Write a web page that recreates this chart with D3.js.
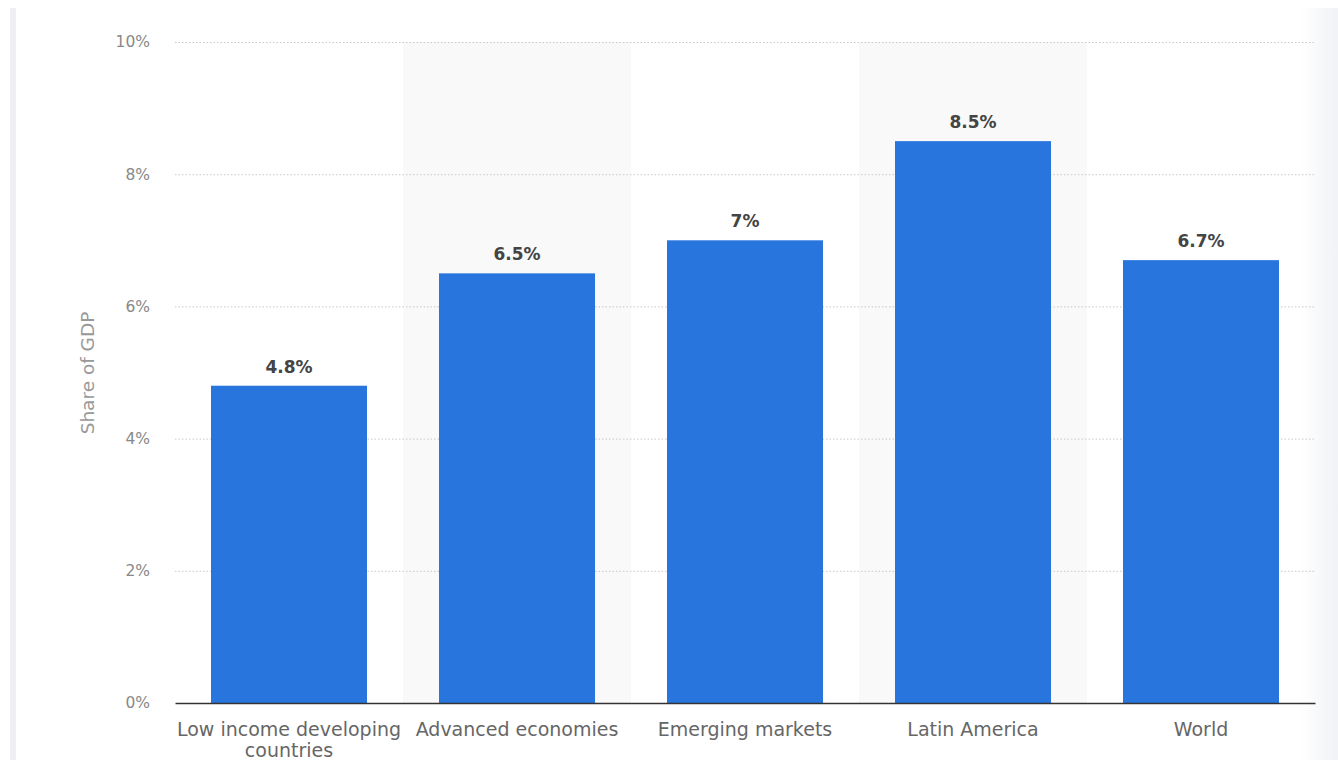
<!DOCTYPE html>
<html><head><meta charset="utf-8">
<script src="https://cdn.jsdelivr.net/npm/d3@7"></script>
<style>body{margin:0;background:#fff;font-family:"DejaVu Sans",sans-serif;}</style>
</head><body><svg id="c" width="1338" height="760"></svg>
<script>
const categories = ["Low income developing countries","Advanced economies","Emerging markets","Latin America","World"];
const values = [4.8, 6.5, 7, 8.5, 6.7];
const valueLabels = ["4.8%","6.5%","7%","8.5%","6.7%"];
const yTicks = [0,2,4,6,8,10];
const yTitle = "Share of GDP";

const FONT = "'DejaVu Sans',sans-serif";
const svg = d3.select("#c");
const m = {l:175, r:1315, t:42, b:703};
const x = d3.scaleBand().domain(categories).range([m.l, m.r]).paddingInner(0).paddingOuter(0);
const y = d3.scaleLinear().domain([0,10]).range([m.b, m.t]);

// side decorations
svg.append("rect").attr("x",10).attr("y",8).attr("width",6).attr("height",752).attr("fill","#eef0f4");
const defs = svg.append("defs");
const g = defs.append("linearGradient").attr("id","rg").attr("x1","0").attr("x2","1");
g.append("stop").attr("offset","0").attr("stop-color","#ffffff");
g.append("stop").attr("offset","1").attr("stop-color","#f1f2f5");
svg.append("rect").attr("x",1300).attr("y",8).attr("width",38).attr("height",752).attr("fill","url(#rg)");

// alternating bands
svg.selectAll("rect.band").data(categories.filter((d,i)=>i%2===1)).join("rect")
  .attr("class","band").attr("x",d=>x(d)).attr("y",m.t).attr("width",x.bandwidth()).attr("height",m.b-m.t)
  .attr("fill","#f9f9f9");

// grid
const yAxis = d3.axisLeft(y).tickValues(yTicks).tickFormat(d=>d+"%").tickSize(-(m.r-m.l)).tickPadding(25);
const ga = svg.append("g").attr("transform",`translate(${m.l},0)`).call(yAxis);
ga.select(".domain").remove();
ga.selectAll(".tick line").attr("stroke","#c8c8c8").attr("stroke-dasharray","1.5,2");
ga.selectAll(".tick text").attr("fill","#888").style("font-size","15.5px").style("font-family",FONT);
ga.selectAll(".tick").filter(d=>d===0).select("line").remove();

// bars
const bw = 156;
svg.selectAll("rect.bar").data(categories).join("rect").attr("class","bar")
  .attr("x",d=>x(d)+(x.bandwidth()-bw)/2).attr("width",bw)
  .attr("y",(d,i)=>y(values[i])).attr("height",(d,i)=>y(0)-y(values[i]))
  .attr("fill","#2876dd");

// value labels
svg.selectAll("text.val").data(categories).join("text").attr("class","val")
  .attr("x",d=>x(d)+x.bandwidth()/2).attr("y",(d,i)=>y(values[i])-13)
  .attr("text-anchor","middle").attr("fill","#444").style("font-size","17px").style("font-weight","bold")
  .style("font-family",FONT)
  .text((d,i)=>valueLabels[i]);

// x axis
const xa = svg.append("g").attr("transform",`translate(0,${m.b})`).call(d3.axisBottom(x).tickSize(0).tickPadding(20));
xa.select(".domain").attr("stroke","#333").attr("stroke-width",1.5);
xa.selectAll(".tick text").attr("fill","#666").style("font-size","19px").style("font-family",FONT)
  .each(function(d){
    const t = d3.select(this);
    if (d === "Low income developing countries") {
      t.text(null);
      t.append("tspan").attr("x",0).attr("dy","0.71em").text("Low income developing");
      t.append("tspan").attr("x",0).attr("dy","1.08em").text("countries");
    }
  });

// y title
svg.append("text").attr("transform","translate(94,373) rotate(-90)").attr("text-anchor","middle")
  .attr("fill","#999").style("font-size","18.5px").style("font-family",FONT).text(yTitle);
</script></body></html>
